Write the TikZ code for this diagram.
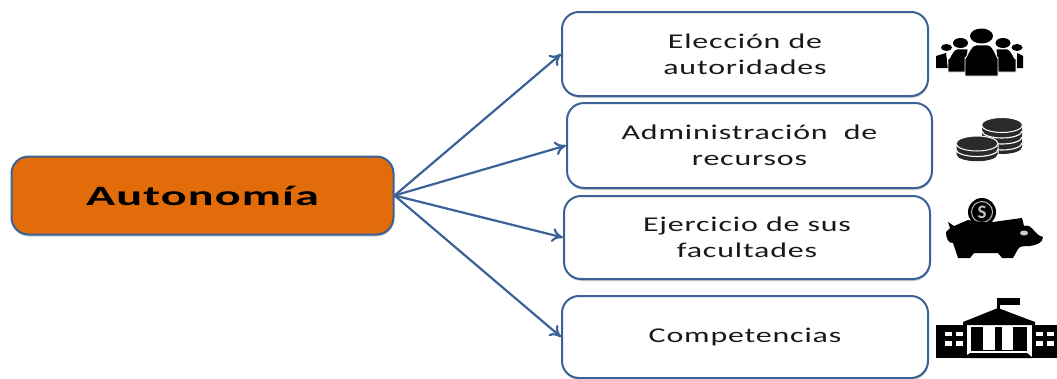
\documentclass[tikz,border=0pt]{standalone}
\usepackage{fontspec}
\setmainfont{Carlito}
\newfontfamily\wide[FakeStretch=1.52,LetterSpace=4]{Carlito}
\newfontfamily\widebold[FakeStretch=1.72,LetterSpace=4]{Carlito}
\usetikzlibrary{arrows.meta,shadows}
\definecolor{edgeblue}{HTML}{3A6296}
\definecolor{boxorange}{HTML}{E36C0A}
\definecolor{coinblack}{HTML}{2A2A2A}
\newcommand{\twolines}[2]{\raisebox{#1}{\parbox{340pt}{\centering #2}}\hspace{5pt}}
\tikzset{
  optionbox/.style={draw=edgeblue,line width=2pt,rounded corners=17pt,fill=white,
    minimum width=365pt,minimum height=83pt,inner sep=0pt,
    font=\wide\fontsize{21}{26}\selectfont,text=black!90,
    drop shadow={shadow xshift=0.5pt,shadow yshift=-2pt,opacity=.2,fill=black}},
  mainbox/.style={draw=edgeblue,line width=2pt,rounded corners=17pt,fill=boxorange,
    minimum width=382pt,minimum height=78pt,inner sep=0pt,
    font=\widebold\bfseries\fontsize{28}{32}\selectfont,text=black,
    drop shadow={shadow xshift=0.5pt,shadow yshift=-2pt,opacity=.2,fill=black}},
  link/.style={draw=edgeblue,line width=2.2pt,-{To[length=11pt,width=14pt]}},
  iconfill/.style={fill=black,draw=white,line width=.8pt},
}
\begin{document}
\begin{tikzpicture}[x=1pt,y=-1pt]
\useasboundingbox (0,0) rectangle (1057,378);
\clip (0,0) rectangle (1057,378);
\node[mainbox] (auto) at (202.5,195.5) {Autonomía};
\node[optionbox,minimum width=366pt,minimum height=84pt] (a) at (745,54) {\twolines{2.5pt}{Elección de\\autoridades}};
\node[optionbox,minimum height=85pt] (b) at (749.5,145.5) {\twolines{0pt}{Administración\ \ de\\recursos}};
\node[optionbox,minimum width=366pt,minimum height=83pt] (c) at (747,237.5) {\twolines{0pt}{Ejercicio de sus\\facultades}};
\node[optionbox,minimum width=366pt,minimum height=82pt] (d) at (745,337) {Competencias\hspace{5pt}};
\draw[link] (auto.east) -- (a.west);
\draw[link] (auto.east) -- (b.west);
\draw[link] (auto.east) -- (c.west);
\draw[link] (auto.east) -- (d.west);
% people icon
\fill[black] (946.5,47.5) ellipse (5.5 and 3.5);
\fill[black] (1017,47.5) ellipse (5.5 and 3.5);
\fill[black] (936,56) -- (946,53) -- (948,68) -- (936,68) -- cycle;
\fill[black] (1017,53) -- (1023,56) -- (1023,68) -- (1017,68) -- cycle;
\fill[black] (960.5,43) ellipse (7.5 and 5);
\fill[black] (1003,43) ellipse (7.5 and 5);
\path[iconfill] (948,72) -- (948,58) to[out=-80,in=180] (957,49) -- (968,49) -- (966,72) -- cycle;
\path[iconfill] (1016,72) -- (1016,58) to[out=-100,in=0] (1007,49) -- (996,49) -- (998,72) -- cycle;
\path[iconfill] (965,76) -- (965,57) to[out=-90,in=180] (976,45) -- (988,45) to[out=0,in=-90] (998,57) -- (998,76) -- cycle;
\fill[black] (981.5,36) ellipse (11.5 and 7.5);
% coins icon
\path[fill=coinblack] (982,125) -- (982,147) arc[start angle=180,end angle=0,x radius=20,y radius=7] -- (1022,125) -- cycle;
\foreach \yy in {131,137,143}{
  \draw[white,line width=1.1pt] (982,\yy) arc[start angle=180,end angle=0,x radius=20,y radius=7];
}
\path[fill=coinblack,draw=white,line width=1pt] (1002,125) ellipse (20.5 and 7.5);
\path[fill=coinblack,draw=white,line width=1pt] (956,144) -- (956,155) arc[start angle=180,end angle=0,x radius=21,y radius=7] -- (998,144) -- cycle;
\foreach \yy in {149.5,155}{
  \draw[white,line width=1.1pt] (956,\yy) arc[start angle=180,end angle=0,x radius=21,y radius=7];
}
\path[fill=coinblack,draw=white,line width=1pt] (977,143.5) ellipse (21 and 7.5);
% piggy icon
\fill[black] (982,212) circle (14);
\node[font=\bfseries\fontsize{19}{19}\selectfont,text=white!75!black,inner sep=0pt] (dollar) at (982,212) {S};
\draw[white!75!black,line width=1pt] (982,212) circle (10.5);
\fill[black] (948,222) -- (954,226) -- (968,220) to[out=-10,in=190] (1000,221) -- (1022,218) -- (1024,226) to[out=20,in=170] (1043,237) to[out=-90,in=10] (1030,246) to[out=190,in=60] (1018,249) -- (1013,258) -- (1002,258) -- (998,253) -- (974,253) -- (970,258) -- (958,258) -- (953,243) to[out=190,in=270] (946,232) -- (950,228) -- cycle;
\fill[white!80!black] (1024,233) ellipse (4 and 2.5);
% building icon
\fill[black] (936,325) rectangle (967,358);
\fill[black] (1032,325) rectangle (1057,358);
\fill[black] (997,298) rectangle (1000,314);
\fill[black] (999,298) rectangle (1020,305);
\fill[black] (963,322) -- (998,308) -- (1035,322) -- (1035,325) -- (963,325) -- cycle;
\fill[black] (971,327) rectangle (1027,351);
\path[fill=black] (963,358) -- (970,353) -- (1027,353) -- (1033,358) -- cycle;
\fill[white] (983,327) rectangle (995,350);
\fill[white] (1002,327) rectangle (1013,350);
\foreach \xx in {945,956,1036,1047}{
  \fill[white] (\xx,332) rectangle (\xx+7,336);
  \fill[white] (\xx,341) rectangle (\xx+7,346);
}
\end{tikzpicture}
\end{document}
